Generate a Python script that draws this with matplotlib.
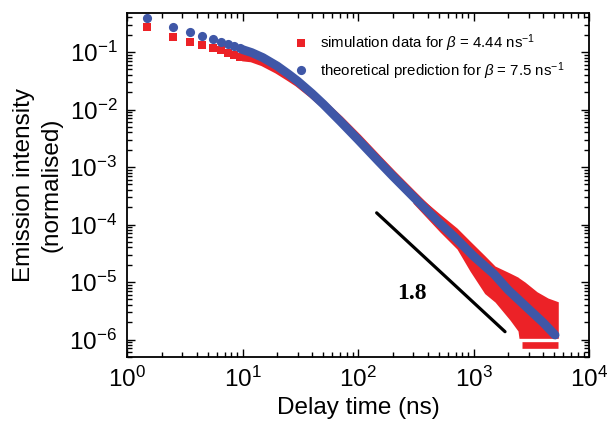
import matplotlib
matplotlib.use("Agg")
import matplotlib.pyplot as plt
import numpy as np
from matplotlib.ticker import LogLocator

plt.rcParams['font.family'] = ['Liberation Sans', 'DejaVu Sans']
plt.rcParams['mathtext.fontset'] = 'custom'
plt.rcParams['mathtext.rm'] = 'Liberation Sans'
plt.rcParams['mathtext.it'] = 'Liberation Sans:italic'

RED = '#EC2227'
BLUE = '#3F57A7'

# ---- data ----
# early (resolved) points
t_early = [1.5, 2.5, 3.5, 4.5, 5.5, 6.5, 7.5, 8.5, 9.5]
sim_early = [0.269, 0.185, 0.151, 0.134, 0.119, 0.108, 0.098, 0.0887, 0.0818]
theo_early = [0.386, 0.269, 0.223, 0.192, 0.168, 0.151, 0.138, 0.127, 0.117]

# dense theoretical curve (ns, normalised)
t_theo = [10, 12, 15, 20, 25, 30, 40, 50, 70, 100, 150, 200, 300, 500, 700,
          1000, 1500, 2000, 3000, 4000, 5080]
theo = [0.1105, 0.0980, 0.0802, 0.0571, 0.0414, 0.0313, 0.01898, 0.01246,
        6.31e-3, 3.01e-3, 1.272e-3, 6.97e-4, 3.07e-4, 1.10e-4, 5.82e-5,
        2.83e-5, 1.38e-5, 7.26e-6, 3.39e-6, 1.98e-6, 1.20e-6]

# dense simulation data, centre of the band
t_sim = [10, 12, 15, 20, 25, 30, 40, 50, 70, 100, 150, 200, 300, 500]
sim = [0.0802, 0.0771, 0.0657, 0.0486, 0.0367, 0.0289, 0.01823, 0.01246,
       6.70e-3, 3.26e-3, 1.377e-3, 7.55e-4, 3.33e-4, 1.20e-4]

# noisy tail of simulation data: envelope
t_tail = [299, 513, 720, 933, 1250, 1536, 2071, 2428, 2477, 2792, 3548, 4418, 5420]
sim_tail_hi = [3.83e-4, 1.52e-4, 8.69e-5, 5.16e-5, 2.89e-5, 1.90e-5, 1.43e-5,
               1.22e-5, 1.18e-5, 1.0e-5, 6.78e-6, 5.27e-6, 4.54e-6]
sim_tail_lo = [2.36e-4, 7.41e-5, 3.75e-5, 1.55e-5, 6.31e-6, 4.49e-6, 2.18e-6,
               1.41e-6, 1.05e-6, 1.05e-6, 1.05e-6, 1.05e-6, 1.05e-6]

# floor of simulation data (lowest level)
t_floor = [2612, 5420]
sim_floor = [8.0e-7, 8.0e-7]

# guide line with slope 1.8
t_guide = [145, 1875]
guide = [1.6e-4, 1.37e-6]
slope_label = '1.8'
slope_pos = (292, 6.4e-6)

# ---- figure ----
fig = plt.figure(figsize=(6.11, 4.22), dpi=100)
ax = fig.add_axes([0.2079, 0.154, 0.7561, 0.815])
ax.set_xscale('log')
ax.set_yscale('log')

# simulation
ax.fill_between(t_tail, sim_tail_lo, sim_tail_hi, color=RED, lw=0, zorder=2)
ax.plot(t_sim, sim, color=RED, lw=5.4, solid_capstyle='butt',
        solid_joinstyle='round', zorder=2)
ax.plot(t_floor, sim_floor, color=RED, lw=4.8, solid_capstyle='butt', zorder=2)
ax.plot(t_early, sim_early, ls='none', marker='s', ms=5.6, color=RED, mew=0,
        zorder=3, label=r'simulation data for $\it{\beta}$ = 4.44 ns$^{-1}$')

# theory
ax.plot(t_theo, theo, color=BLUE, lw=6.4, solid_capstyle='round',
        solid_joinstyle='round', zorder=4)
ax.plot(t_early, theo_early, ls='none', marker='o', ms=6.6, color=BLUE, mew=0,
        zorder=4, label=r'theoretical prediction for $\it{\beta}$ = 7.5 ns$^{-1}$')

# guide line
ax.plot(t_guide, guide, color='black', lw=2.3, solid_capstyle='round', zorder=5)
ax.text(slope_pos[0], slope_pos[1], slope_label, family='Liberation Serif',
        weight='bold', fontsize=17, ha='center', va='center')

ax.set_xlim(1, 1e4)
ax.set_ylim(4.97e-7, 0.477)

ax.tick_params(which='both', direction='in', top=True, right=True, width=1.0)
ax.tick_params(which='major', length=6, labelsize=17.5, pad=7)
ax.tick_params(which='minor', length=3.5)
ax.xaxis.set_major_locator(LogLocator(base=10, numticks=10))
ax.yaxis.set_major_locator(LogLocator(base=10, numticks=10))
ax.xaxis.set_minor_locator(LogLocator(base=10, subs=np.arange(2, 10), numticks=20))
ax.yaxis.set_minor_locator(LogLocator(base=10, subs=np.arange(2, 10), numticks=20))
for s in ax.spines.values():
    s.set_linewidth(1.3)

ax.set_xlabel('Delay time (ns)', fontsize=17.5, labelpad=4)
ax.set_ylabel('Emission intensity\n(normalised)', fontsize=17.5, labelpad=5,
              linespacing=1.3)

leg = ax.legend(loc='upper left', bbox_to_anchor=(0.347, 0.962), frameon=False,
                fontsize=10.8, handlelength=1.0, handletextpad=0.8,
                labelspacing=0.42, borderaxespad=0)

fig.savefig('out.png', dpi=100)
